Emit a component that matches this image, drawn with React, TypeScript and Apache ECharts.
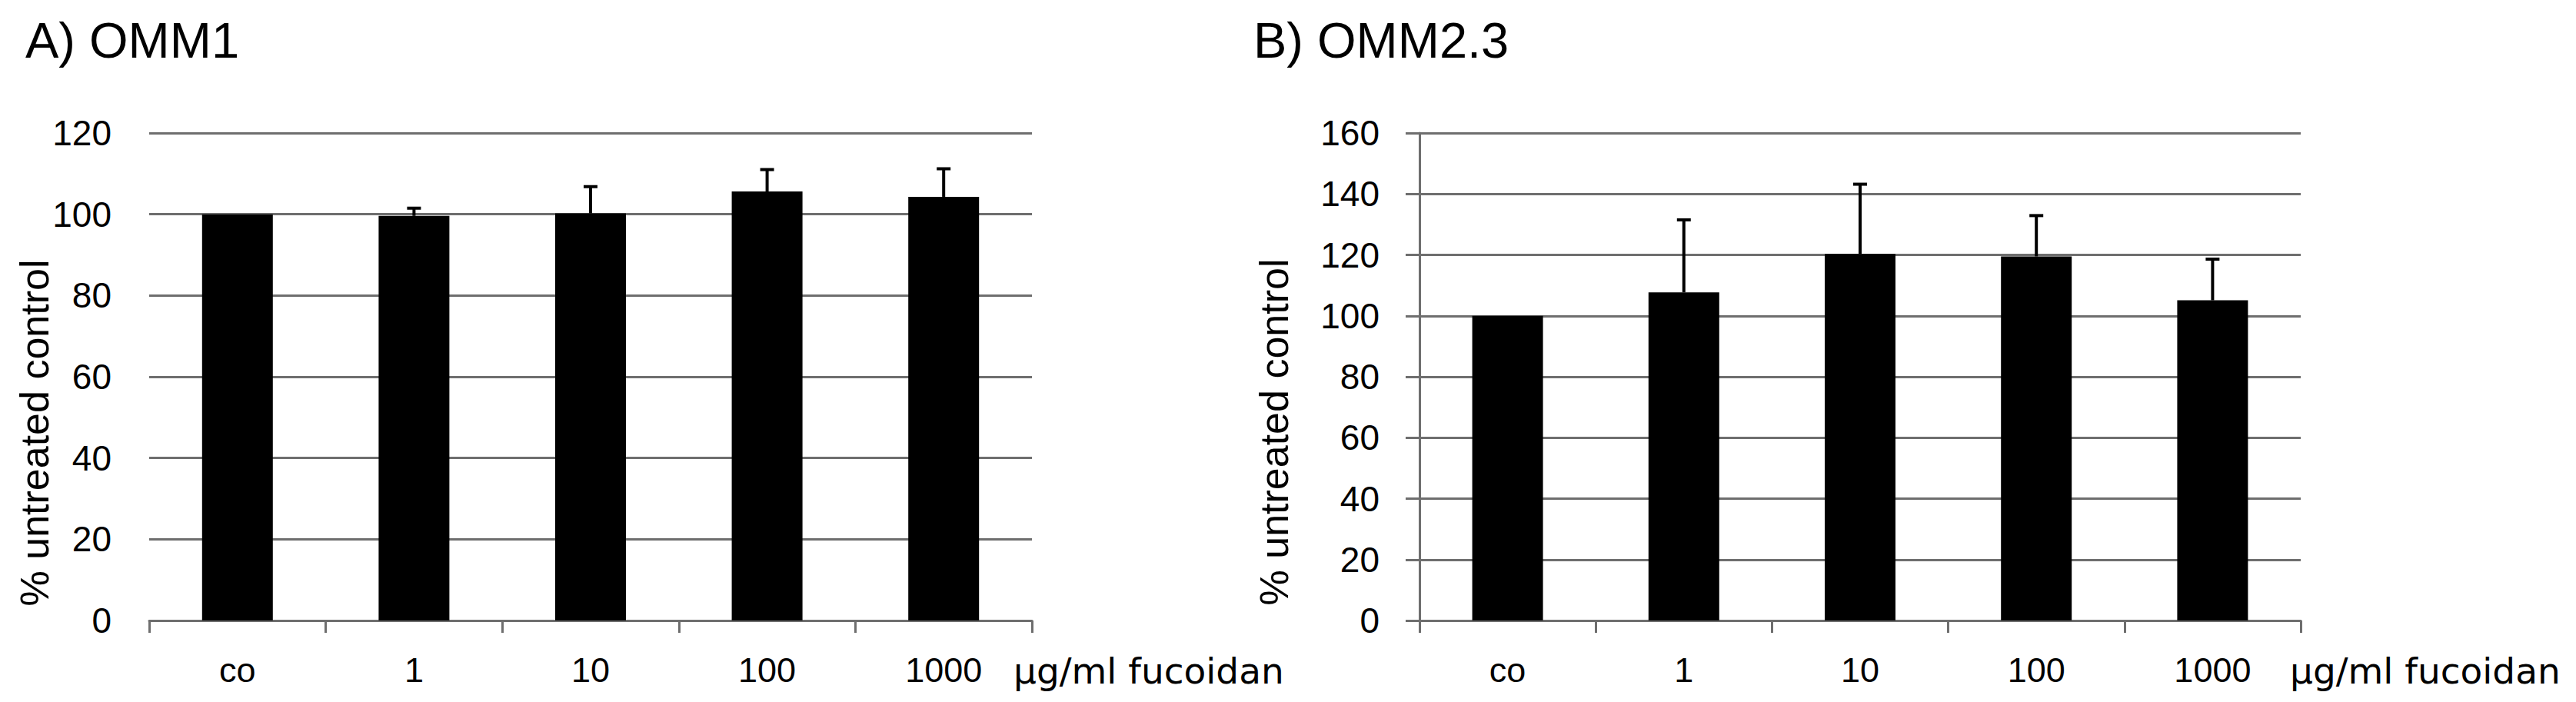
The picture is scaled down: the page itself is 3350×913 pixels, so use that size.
import React, { useEffect, useRef } from "react";
import * as echarts from "echarts";

const categories = ["co", "1", "10", "100", "1000"];
const omm1Means = [100, 99.6, 100.2, 105.6, 104.3];
const omm1Upper = [null, 101.5, 106.8, 111.0, 111.2];
const omm23Means = [100, 107.7, 120.3, 119.5, 105.1];
const omm23Upper = [null, 131.5, 143.2, 132.9, 118.6];
const yTicksA = { min: 0, max: 120, interval: 20 };
const yTicksB = { min: 0, max: 160, interval: 20 };

const GRAY = "#6e6e6e";
const FONT = "Liberation Sans, Arial, sans-serif";

function errData(means: number[], upper: (number | null)[]) {
  const out: number[][] = [];
  means.forEach((m, i) => {
    const u = upper[i];
    if (u != null) out.push([i, m, u]);
  });
  return out;
}

function renderErr(params: any, api: any) {
  const x = api.value(0);
  const p0 = api.coord([x, api.value(1)]);
  const p1 = api.coord([x, api.value(2)]);
  return {
    type: "group",
    children: [
      {
        type: "line",
        shape: { x1: p0[0], y1: p0[1], x2: p1[0], y2: p1[1] },
        style: { stroke: "#000", lineWidth: 4 },
      },
      {
        type: "line",
        shape: { x1: p1[0] - 9, y1: p1[1], x2: p1[0] + 9, y2: p1[1] },
        style: { stroke: "#000", lineWidth: 4 },
      },
    ],
  };
}

export default function App() {
  const ref = useRef<HTMLDivElement>(null);
  useEffect(() => {
    if (!ref.current) return;
    const chart = echarts.init(ref.current, null, { renderer: "svg" });
    const xAxisBase = (gridIndex: number) => ({
      type: "category",
      gridIndex,
      data: categories,
      boundaryGap: true,
      axisLine: { show: true, lineStyle: { color: GRAY, width: 3 } },
      axisTick: { show: true, length: 16, interval: 0, lineStyle: { color: GRAY, width: 3 } },
      axisLabel: { color: "#000", fontSize: 45, fontFamily: FONT, margin: 42, interval: 0 },
      splitLine: { show: false },
    });
    const option: any = {
      animation: false,
      backgroundColor: "#fff",
      grid: [
        { left: 194, top: 173, width: 1148, height: 634 },
        { left: 1846, top: 173, width: 1146, height: 634 },
      ],
      xAxis: [xAxisBase(0), xAxisBase(1)],
      yAxis: [
        {
          type: "value",
          gridIndex: 0,
          ...yTicksA,
          axisLine: { show: false },
          axisTick: { show: false },
          axisLabel: { color: "#000", fontSize: 46, fontFamily: FONT, margin: 49 },
          splitLine: { show: true, lineStyle: { color: GRAY, width: 3 } },
        },
        {
          type: "value",
          gridIndex: 1,
          ...yTicksB,
          axisLine: { show: true, lineStyle: { color: GRAY, width: 3 } },
          axisTick: { show: true, length: 18, lineStyle: { color: GRAY, width: 3 } },
          axisLabel: { color: "#000", fontSize: 46, fontFamily: FONT, margin: 52 },
          splitLine: { show: true, lineStyle: { color: GRAY, width: 3 } },
        },
      ],
      series: [
        {
          type: "bar",
          xAxisIndex: 0,
          yAxisIndex: 0,
          data: omm1Means,
          barWidth: 92,
          itemStyle: { color: "#000" },
          z: 2,
        },
        {
          type: "custom",
          xAxisIndex: 0,
          yAxisIndex: 0,
          data: errData(omm1Means, omm1Upper),
          renderItem: renderErr,
          encode: { x: 0, y: [1, 2] },
          z: 3,
        },
        {
          type: "bar",
          xAxisIndex: 1,
          yAxisIndex: 1,
          data: omm23Means,
          barWidth: 92,
          itemStyle: { color: "#000" },
          z: 2,
        },
        {
          type: "custom",
          xAxisIndex: 1,
          yAxisIndex: 1,
          data: errData(omm23Means, omm23Upper),
          renderItem: renderErr,
          encode: { x: 0, y: [1, 2] },
          z: 3,
        },
      ],
      graphic: [
        {
          type: "text",
          left: 33,
          top: 20,
          style: { text: "A) OMM1", fontSize: 65, fontFamily: FONT, fill: "#000" },
        },
        {
          type: "text",
          left: 1630,
          top: 20,
          style: { text: "B) OMM2.3", fontSize: 65, fontFamily: FONT, fill: "#000" },
        },
        {
          type: "text",
          x: 45,
          y: 563,
          rotation: Math.PI / 2,
          style: {
            text: "% untreated control",
            fontSize: 52,
            fontFamily: FONT,
            fill: "#000",
            align: "center",
            verticalAlign: "middle",
          },
        },
        {
          type: "text",
          x: 1657,
          y: 562,
          rotation: Math.PI / 2,
          style: {
            text: "% untreated control",
            fontSize: 52,
            fontFamily: FONT,
            fill: "#000",
            align: "center",
            verticalAlign: "middle",
          },
        },
        {
          type: "text",
          x: 1318,
          y: 872,
          style: {
            text: "µg/ml fucoidan",
            fontSize: 47,
            fontFamily: "DejaVu Sans, sans-serif",
            fill: "#000",
            align: "left",
            verticalAlign: "middle",
          },
        },
        {
          type: "text",
          x: 2978,
          y: 872,
          style: {
            text: "µg/ml fucoidan",
            fontSize: 47,
            fontFamily: "DejaVu Sans, sans-serif",
            fill: "#000",
            align: "left",
            verticalAlign: "middle",
          },
        },
      ],
    };
    chart.setOption(option);
    return () => chart.dispose();
  }, []);
  return (
    <div
      ref={ref}
      style={{ position: "fixed", left: 0, top: 0, width: 3350, height: 913, background: "#fff" }}
    />
  );
}
